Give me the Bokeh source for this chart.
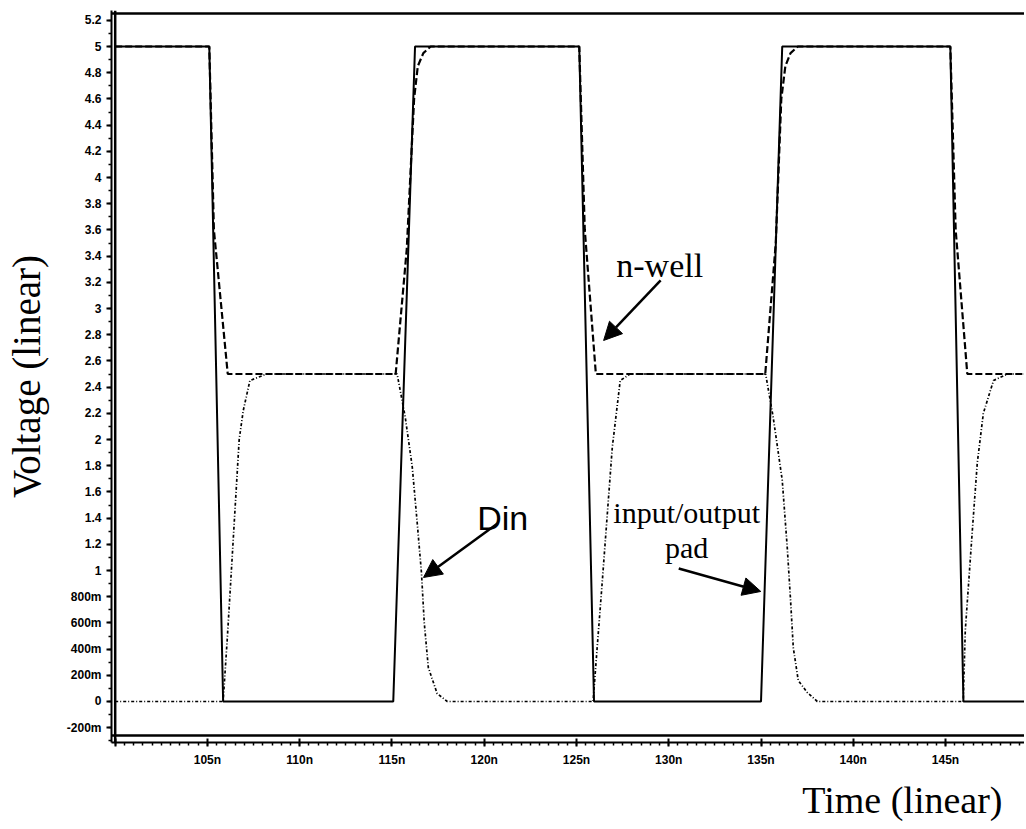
import numpy as np
from bokeh.plotting import figure
from bokeh.models import FixedTicker, Span, Label, Arrow, NormalHead, Range1d, Title
from bokeh.embed import file_html
from bokeh.resources import INLINE

# ---------------- data (time in ns, voltage in V) ----------------
pad_t = [100.0, 105.1, 105.85, 115.07, 116.25, 125.15, 125.95, 135.0, 136.15, 145.26, 145.97, 149.5]
pad_v = [5.0, 5.0, 0.0, 0.0, 5.0, 5.0, 0.0, 0.0, 5.0, 5.0, 0.0, 0.0]

nwell_t = [100.0, 105.1, 105.35, 106.1, 115.2, 115.8, 116.2, 116.4, 116.7, 117.1,
           125.15, 125.45, 126.05, 135.23, 135.8, 136.1, 136.32, 136.6, 137.0,
           145.26, 145.55, 146.18, 149.5]
nwell_v = [5.0, 5.0, 3.6, 2.5, 2.5, 3.45, 4.6, 4.85, 4.95, 5.0,
           5.0, 3.6, 2.5, 2.5, 3.5, 4.6, 4.85, 4.95, 5.0,
           5.0, 3.6, 2.5, 2.5]

din_t = [100.0, 105.85, 106.07, 106.34, 106.5, 106.72, 106.94, 107.3, 108.2,
         115.28, 115.72, 116.1, 116.37, 116.6, 116.75, 116.97, 117.45, 118.0,
         125.9, 126.12, 126.4, 126.67, 126.94, 127.37, 127.9,
         135.25, 135.66, 136.15, 136.42, 136.59, 136.75, 137.02, 137.5, 138.05,
         145.96, 146.07, 146.45, 146.72, 147.05, 147.6, 148.35, 149.5]
din_v = [0.0, 0.0, 0.47, 1.1, 1.48, 2.0, 2.22, 2.45, 2.5,
         2.5, 2.17, 1.79, 1.36, 0.98, 0.6, 0.26, 0.06, 0.0,
         0.0, 0.41, 0.92, 1.43, 1.94, 2.45, 2.5,
         2.5, 2.17, 1.69, 1.18, 0.8, 0.41, 0.16, 0.07, 0.0,
         0.0, 0.54, 1.3, 1.82, 2.2, 2.45, 2.5, 2.5]

x_ticks = [100, 105, 110, 115, 120, 125, 130, 135, 140, 145]
x_tick_labels = ["", "105n", "110n", "115n", "120n", "125n", "130n", "135n", "140n", "145n"]

y_ticks = [-0.2, 0.0, 0.2, 0.4, 0.6, 0.8, 1.0, 1.2, 1.4, 1.6, 1.8, 2.0, 2.2, 2.4,
           2.6, 2.8, 3.0, 3.2, 3.4, 3.6, 3.8, 4.0, 4.2, 4.4, 4.6, 4.8, 5.0, 5.2]
y_tick_labels = ["-200m", "0", "200m", "400m", "600m", "800m", "1", "1.2", "1.4", "1.6",
                 "1.8", "2", "2.2", "2.4", "2.6", "2.8", "3", "3.2", "3.4", "3.6", "3.8",
                 "4", "4.2", "4.4", "4.6", "4.8", "5", "5.2"]

# ---------------- figure ----------------
p = figure(width=1024, height=827, output_backend="svg", toolbar_location=None,
           x_range=Range1d(99.80, 149.28), y_range=Range1d(-0.313, 5.275),
           min_border_left=111, min_border_right=0, min_border_top=10, min_border_bottom=85)
p.outline_line_color = None
p.xgrid.visible = False
p.ygrid.visible = False
p.background_fill_color = "white"
p.border_fill_color = "white"

# axes
p.xaxis.ticker = FixedTicker(ticks=x_ticks, minor_ticks=list(np.arange(100, 149.6, 0.5)))
p.xaxis.major_label_overrides = {t: l for t, l in zip(x_ticks, x_tick_labels)}
p.yaxis.ticker = FixedTicker(ticks=y_ticks, minor_ticks=list(np.round(np.arange(-0.3, 5.3, 0.1), 2)))
p.yaxis.major_label_overrides = {t: l for t, l in zip(y_ticks, y_tick_labels)}
for ax in (p.xaxis[0], p.yaxis[0]):
    ax.axis_line_width = 2
    ax.axis_line_color = "black"
    ax.major_tick_line_width = 2
    ax.minor_tick_line_width = 1.5
    ax.major_tick_line_color = "black"
    ax.minor_tick_line_color = "black"
    ax.major_label_text_font = "Liberation Sans"
    ax.major_label_text_font_style = "bold"
    ax.major_label_text_font_size = "12px"
    ax.major_label_text_color = "black"
p.xaxis.major_tick_in = 4
p.xaxis.major_tick_out = 4
p.xaxis.minor_tick_in = 0
p.xaxis.minor_tick_out = 3
p.xaxis.major_label_standoff = 6
p.yaxis.major_tick_in = 0
p.yaxis.major_tick_out = 5
p.yaxis.minor_tick_in = 0
p.yaxis.minor_tick_out = 3
p.yaxis.major_label_standoff = 5

p.yaxis.axis_label = "Voltage (linear)"
p.yaxis.axis_label_text_font = "Liberation Serif"
p.yaxis.axis_label_text_font_style = "normal"
p.yaxis.axis_label_text_font_size = "39px"
p.yaxis.axis_label_text_color = "black"
p.yaxis.axis_label_standoff = 16

p.add_layout(Title(text="Time (linear)", align="right", offset=22, standoff=14,
                   text_font="Liberation Serif", text_font_style="normal",
                   text_font_size="38px", text_color="black"), "below")

# inner frame (top, bottom, left)
p.add_layout(Span(location=5.252, dimension="width", line_color="black", line_width=2.5))
p.add_layout(Span(location=-0.26, dimension="width", line_color="black", line_width=2.5))
p.add_layout(Span(location=100.0, dimension="height", line_color="black", line_width=2.5))

# waveforms
p.line(pad_t, pad_v, line_color="black", line_width=2)
p.line(nwell_t, nwell_v, line_color="black", line_width=2.2, line_dash="7 3")
p.line(din_t, din_v, line_color="black", line_width=1.7, line_dash="3 2 1 2")

# annotations
p.add_layout(Label(x=129.51, y=3.328, text="n-well", text_align="center", text_baseline="alphabetic",
                   text_font="Liberation Serif", text_font_size="34px", text_color="black"))
p.add_layout(Label(x=121.0, y=1.397, text="Din", text_align="center", text_baseline="alphabetic",
                   text_font="Liberation Sans", text_font_size="34px", text_color="black"))
p.add_layout(Label(x=130.97, y=1.443, text="input/output", text_align="center", text_baseline="alphabetic",
                   text_font="Liberation Serif", text_font_size="30px", text_color="black"))
p.add_layout(Label(x=130.97, y=1.176, text="pad", text_align="center", text_baseline="alphabetic",
                   text_font="Liberation Serif", text_font_size="30px", text_color="black"))

def arrow(x0, y0, x1, y1):
    p.add_layout(Arrow(end=NormalHead(size=18, fill_color="black", line_color="black"),
                       x_start=x0, y_start=y0, x_end=x1, y_end=y1,
                       line_color="black", line_width=2.5))

arrow(129.56, 3.214, 126.47, 2.756)
arrow(120.72, 1.359, 116.71, 0.947)
arrow(130.54, 1.015, 134.99, 0.840)

open("out.html", "w").write(file_html(p, INLINE))
